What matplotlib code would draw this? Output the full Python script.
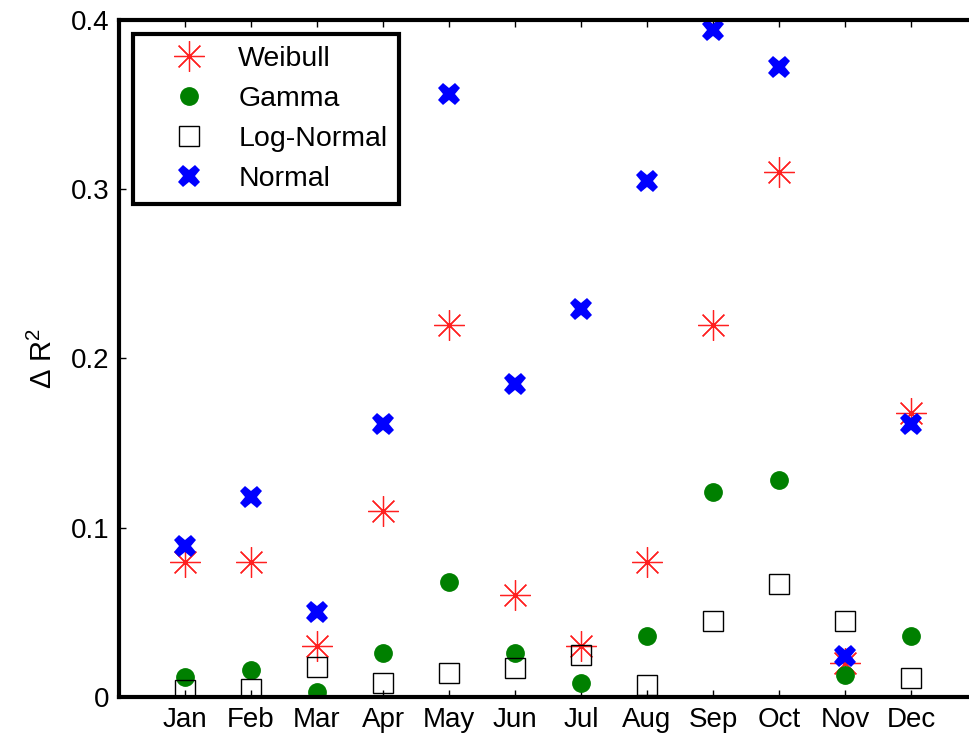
import matplotlib.pyplot as plt

plt.rcParams['font.family'] = ['Liberation Sans', 'DejaVu Sans']
plt.rcParams['mathtext.default'] = 'regular'

months = ['Jan', 'Feb', 'Mar', 'Apr', 'May', 'Jun', 'Jul', 'Aug', 'Sep', 'Oct', 'Nov', 'Dec']
weibull = [0.08, 0.08, 0.03, 0.11, 0.22, 0.06, 0.03, 0.08, 0.22, 0.31, 0.02, 0.168]
gamma = [0.012, 0.016, 0.003, 0.026, 0.068, 0.026, 0.008, 0.036, 0.121, 0.128, 0.013, 0.036]
lognormal = [0.004, 0.005, 0.018, 0.008, 0.014, 0.017, 0.025, 0.007, 0.045, 0.067, 0.045, 0.011]
normal = [0.089, 0.118, 0.05, 0.161, 0.356, 0.185, 0.229, 0.305, 0.394, 0.372, 0.024, 0.161]

x = list(range(1, len(months) + 1))

fig = plt.figure(figsize=(9.69, 7.37), dpi=100)
ax = fig.add_axes([0.1228, 0.0543, 0.8855, 0.9186])

ax.plot(x, weibull, linestyle='none', marker=(8, 2, 0), markersize=22,
        markeredgecolor='#ff2020', markeredgewidth=0.9, label='Weibull')
ax.plot(x, gamma, linestyle='none', marker='o', markersize=12.5,
        color='#008000', label='Gamma')
ax.plot(x, lognormal, linestyle='none', marker='s', markersize=14.5,
        markerfacecolor='none', markeredgecolor='black', markeredgewidth=1.0,
        label='Log-Normal')
ax.plot(x, normal, linestyle='none', marker='X', markersize=16,
        color='#0000ff', markeredgewidth=0, label='Normal')

ax.set_xlim(0, 13)
ax.set_ylim(0, 0.4)
ax.set_xticks(x)
ax.set_xticklabels(months)
ax.set_yticks([0, 0.1, 0.2, 0.3, 0.4])
ax.set_yticklabels(['0', '0.1', '0.2', '0.3', '0.4'])
ax.tick_params(direction='in', length=5, width=1, labelsize=20, top=True, right=True, pad=7)

for side in ['left', 'bottom', 'top', 'right']:
    ax.spines[side].set_linewidth(3)

ax.set_ylabel('Δ R$^2$', fontsize=21, labelpad=9)

leg = ax.legend(loc='upper left', bbox_to_anchor=(0.0163, 0.979), borderaxespad=0,
                fontsize=20.5, fancybox=False, framealpha=1, edgecolor='black',
                handletextpad=0.2, labelspacing=0.5, borderpad=0.4, handlelength=3.1)
leg.get_frame().set_linewidth(3)

fig.savefig('out.png', dpi=100)
